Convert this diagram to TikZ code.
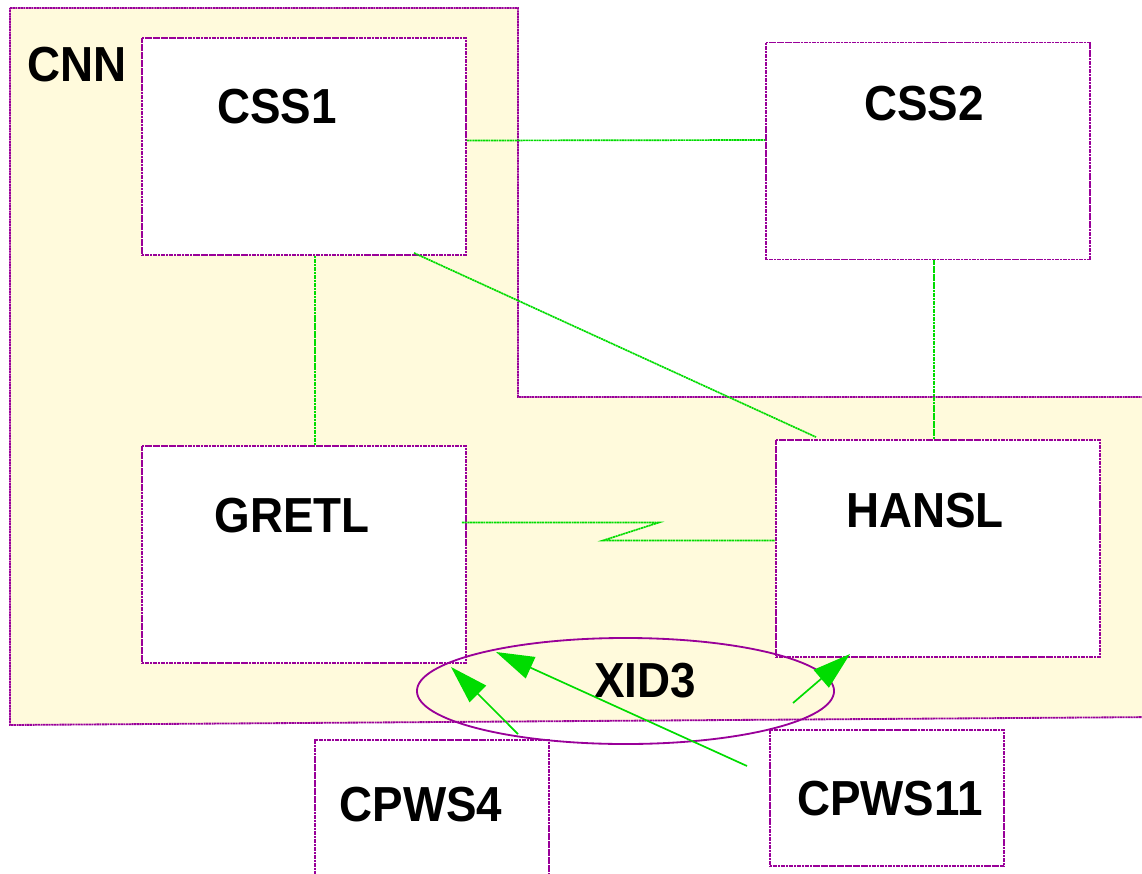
\documentclass[tikz,border=0pt]{standalone}
\usepackage{fontspec}
\setmainfont{Liberation Sans}[FakeStretch=0.93]
\usepackage{tikz}
\usetikzlibrary{shapes.geometric,arrows.meta,calc}
\definecolor{cnnfill}{RGB}{255,250,220}
\definecolor{edge}{RGB}{153,0,153}
\definecolor{wire}{RGB}{0,220,0}

\tikzset{
	box/.style={draw=edge, fill=white, line width=1.3pt, dash pattern=on 1.5pt off 0.4pt, minimum width=8.1cm, minimum height=5.425cm, inner sep=0pt},
	lowbox/.style={box, minimum width=5.85cm},
	tag/.style={font=\fontsize{35}{38}\selectfont\bfseries, inner sep=0pt},
	link/.style={draw=wire, line width=1.2pt, dash pattern=on 1.5pt off 0.4pt},
	push/.style={draw=wire, line width=1.2pt, -{Triangle[length=0.95cm,width=0.58cm,fill=wire]}}
}

\begin{document}
\begin{tikzpicture}[x=0.025cm,y=-0.025cm]
\useasboundingbox (0,0) rectangle (1142,873);
\clip (0,0) rectangle (1142,873);

\filldraw[fill=cnnfill, draw=edge, line width=1.3pt, dash pattern=on 1.5pt off 0.4pt]
	(10,8) -- (518,8) -- (518,397) -- (1160,397) -- (1160,717) -- (10,725) -- cycle;

\node[box] (css1) at (304,146.5) {};
\node[box] (css2) at (928,151) {};
\node[box] (gretl) at (304,554.5) {};
\node[box] (hansl) at (938,548.5) {};
\node[lowbox, minimum height=4cm] (cpws4) at (432,820) {};
\node[lowbox, minimum height=3.4cm] (cpws11) at (887,798) {};
\node[ellipse, draw=edge, line width=1.3pt, minimum width=10.425cm, minimum height=2.65cm, inner sep=0pt] (xid3) at (625.5,691) {};

\node[tag] (cnnt) at (77,65) {CNN};
\node[tag] (css1t) at (277,107) {CSS1};
\node[tag] (css2t) at (924,104) {CSS2};
\node[tag] (gretlt) at (292,516) {GRETL};
\node[tag] (hanslt) at (925,510.5) {HANSL};
\node[tag] (xid3t) at (645,680.5) {XID3};
\node[tag] (cpws4t) at (421,805) {CPWS4};
\node[tag] (cpws11t) at (890,798.5) {CPWS11};

\draw[link] ($(css1.east)+(0,-6)$) -- ($(css2.west)+(0,-11)$);
\draw[link] ($(css1.south)+(11,0)$) -- ($(gretl.north)+(11,0)$);
\draw[link] ($(css1.south)+(110,-3)$) -- ($(hansl.north)+(-122,-2)$);
\draw[link] ($(css2.south)+(6,0)$) -- ($(hansl.north)+(-4,0)$);
\draw[link] ($(gretl.east)+(-5,-32)$) -- ++(197,0) -- ++(-56,18) -- ($(hansl.west)+(0,-8)$);

\coordinate (tip1) at (451,667);
\coordinate (tip2) at (496,652);
\coordinate (tip3) at (850,654);
\coordinate (tail2) at (747,766);
\coordinate (tail3) at (793,703);
\draw[push] ($(cpws4.north)+(86,-5)$) -- (tip1);
\draw[push] (tail2) -- (tip2);
\draw[push] (tail3) -- (tip3);
\end{tikzpicture}
\end{document}
